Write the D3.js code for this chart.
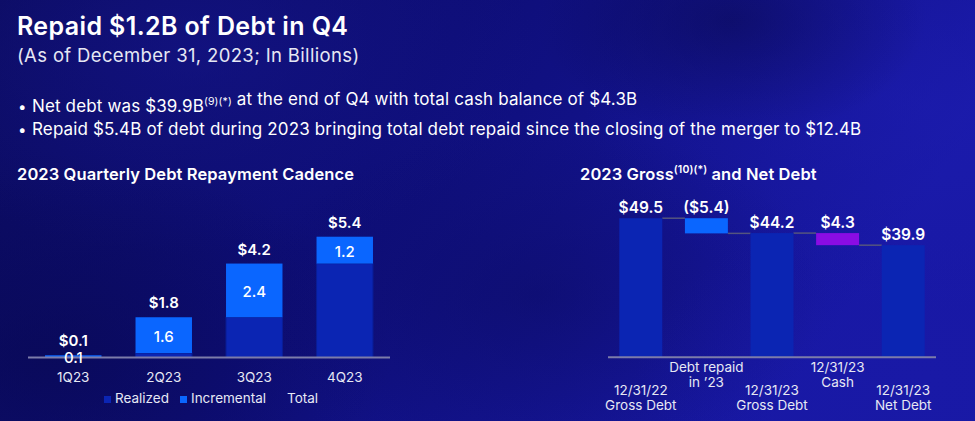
<!DOCTYPE html>
<html>
<head>
<meta charset="utf-8">
<script src="https://cdn.jsdelivr.net/npm/d3@7"></script>
<style>
  html, body { margin: 0; padding: 0; background: #0c0c66; }
  svg { display: block; font-family: Inter, "Noto Sans", sans-serif; }
</style>
</head>
<body>
<svg id="chart" width="975" height="421"></svg>
<script>
// ---------- DATA ----------
const quarters = ["1Q23", "2Q23", "3Q23", "4Q23"];
const realized = [0, 0.2, 1.8, 4.2];
const incremental = [0.1, 1.6, 2.4, 1.2];
const totals = [0.1, 1.8, 4.2, 5.4];
const totalLabels = ["$0.1", "$1.8", "$4.2", "$5.4"];
const incrementalLabels = ["0.1", "1.6", "2.4", "1.2"];
const legendItems = ["Realized", "Incremental", "Total"];

const wfCategories = [["12/31/22", "Gross Debt"], ["Debt repaid", "in \u201923"], ["12/31/23", "Gross Debt"], ["12/31/23", "Cash"], ["12/31/23", "Net Debt"]];
const wfValues = [49.5, -5.4, 44.2, -4.3, 39.9];
const wfTypes = ["total", "change", "total", "change", "total"];
const wfLabels = ["$49.5", "($5.4)", "$44.2", "$4.3", "$39.9"];

// ---------- STYLE ----------
const C = {
  realized: "#0B25B3",
  incremental: "#0A66FF",
  cash: "#8A0CE4",
  axis: "#7C7CAA",
  connector: "#55557E",
  text: "#FFFFFF",
  soft: "#E6E8F4"
};

const svg = d3.select("#chart");
const W = 975, H = 421;

// ---------- BACKGROUND ----------
const defs = svg.append("defs");
const lg = defs.append("linearGradient").attr("id", "bg").attr("x1", 0).attr("y1", 0).attr("x2", 1).attr("y2", 0.3);
lg.append("stop").attr("offset", "0%").attr("stop-color", "#0b0b5e");
lg.append("stop").attr("offset", "45%").attr("stop-color", "#0e0e78");
lg.append("stop").attr("offset", "100%").attr("stop-color", "#1818a4");
svg.append("rect").attr("width", W).attr("height", H).attr("fill", "url(#bg)");

const blobs = [
  {cx: 0.2, cy: 0.12, r: 0.35, c: "#16168e", o: 0.55},
  {cx: 0.95, cy: 0.25, r: 0.35, c: "#1e1eb4", o: 0.5},
  {cx: 0.75, cy: 0.05, r: 0.2, c: "#08084a", o: 0.5},
  {cx: 0.05, cy: 0.85, r: 0.35, c: "#07074c", o: 0.55},
  {cx: 0.55, cy: 0.7, r: 0.3, c: "#0a0a5a", o: 0.45},
  {cx: 0.95, cy: 0.9, r: 0.3, c: "#1a1aa8", o: 0.5}
];
blobs.forEach((b, i) => {
  const rg = defs.append("radialGradient").attr("id", "blob" + i);
  rg.append("stop").attr("offset", "0%").attr("stop-color", b.c).attr("stop-opacity", b.o);
  rg.append("stop").attr("offset", "100%").attr("stop-color", b.c).attr("stop-opacity", 0);
  svg.append("ellipse").attr("cx", b.cx * W).attr("cy", b.cy * H)
    .attr("rx", b.r * W).attr("ry", b.r * W * 0.6).attr("fill", `url(#blob${i})`);
});

// ---------- HEADER ----------
svg.append("text").attr("x", 17).attr("y", 35)
  .attr("fill", C.text).attr("font-size", 25).attr("font-weight", 600)
  .attr("letter-spacing", 0.38)
  .text("Repaid $1.2B of Debt in Q4");
svg.append("text").attr("x", 17).attr("y", 62)
  .attr("fill", C.soft).attr("font-size", 18.5).attr("font-weight", 400)
  .attr("letter-spacing", 0.35)
  .text("(As of December 31, 2023; In Billions)");

function bullet(y, parts) {
  svg.append("text").attr("x", 18).attr("y", y).attr("fill", C.text)
    .attr("font-size", 15).text("\u2022");
  const t = svg.append("text").attr("x", 32).attr("y", y)
    .attr("fill", C.text).attr("font-size", 17).attr("font-weight", 400)
    .attr("letter-spacing", 0.14);
  parts.forEach(p => {
    if (p.sup) {
      t.append("tspan").attr("font-size", 10.5).attr("dy", -7).text(p.t);
      t.append("tspan").attr("dy", 7).text("");
    } else t.append("tspan").text(p.t);
  });
}
bullet(112, [{t: "Net debt was $39.9B"}, {t: "(9)(*)", sup: true}, {t: " at the end of Q4 with total cash balance of $4.3B"}]);
bullet(135, [{t: "Repaid $5.4B of debt during 2023 bringing total debt repaid since the closing of the merger to $12.4B"}]);

// ---------- LEFT CHART: stacked bars ----------
svg.append("text").attr("x", 17).attr("y", 180)
  .attr("fill", C.text).attr("font-size", 16.5).attr("font-weight", 600)
  .attr("letter-spacing", 0.1)
  .text("2023 Quarterly Debt Repayment Cadence");

const x1 = d3.scaleBand().domain(quarters).range([28, 390]).paddingInner(0.376).paddingOuter(0.188);
const y1 = d3.scaleLinear().domain([0, 6]).range([357.5, 223.3]);

const stackRows = quarters.map((q, i) => ({q, realized: realized[i], incremental: incremental[i]}));
const stacked = d3.stack().keys(["realized", "incremental"])(stackRows);
const g1 = svg.append("g");
stacked.forEach(layer => {
  g1.append("g").selectAll("rect").data(layer).join("rect")
    .attr("x", d => x1(d.data.q))
    .attr("width", x1.bandwidth())
    .attr("y", d => y1(d[1]))
    .attr("height", d => Math.max(0, y1(d[0]) - y1(d[1])))
    .attr("fill", layer.key === "realized" ? C.realized : C.incremental)
    .attr("stroke", layer.key === "realized" ? "#0a1d96" : "none")
    .attr("stroke-width", 1);
});

// axis
const ax1 = g1.append("g").attr("transform", `translate(0,${y1(0)})`)
  .call(d3.axisBottom(x1).tickSize(0).tickPadding(15));
ax1.select(".domain").attr("stroke", C.axis).attr("stroke-width", 2)
  .attr("d", `M28,0H390`);
ax1.selectAll("text").attr("fill", C.soft).attr("font-size", 13.5)
  .attr("font-family", "Inter, sans-serif").attr("dy", "0.71em");

// incremental labels
g1.selectAll(".inc").data(stacked[1]).join("text")
  .attr("x", d => x1(d.data.q) + x1.bandwidth() / 2)
  .attr("y", d => (y1(d[0]) + y1(d[1])) / 2 + 1.5)
  .attr("text-anchor", "middle").attr("dominant-baseline", "central")
  .attr("fill", C.text).attr("font-size", 15).attr("font-weight", 500)
  .text((d, i) => incrementalLabels[i]);

// total labels
g1.selectAll(".tot").data(quarters).join("text")
  .attr("x", q => x1(q) + x1.bandwidth() / 2)
  .attr("y", (q, i) => y1(totals[i]) - 9)
  .attr("text-anchor", "middle")
  .attr("fill", C.text).attr("font-size", 15).attr("font-weight", 600)
  .text((q, i) => totalLabels[i]);

// legend
const legX = [104, 180, 287];
const legColors = [C.realized, C.incremental, null];
legendItems.forEach((name, i) => {
  if (legColors[i]) {
    svg.append("rect").attr("x", legX[i]).attr("y", 396).attr("width", 7).attr("height", 7)
      .attr("fill", legColors[i]);
    svg.append("text").attr("x", legX[i] + 11).attr("y", 403)
      .attr("fill", C.soft).attr("font-size", 13.5).text(name);
  } else {
    svg.append("text").attr("x", legX[i]).attr("y", 403)
      .attr("fill", C.soft).attr("font-size", 13.5).text(name);
  }
});

// ---------- RIGHT CHART: waterfall ----------
const rt = svg.append("text").attr("x", 580).attr("y", 180)
  .attr("fill", C.text).attr("font-size", 16.5).attr("font-weight", 600)
  .attr("letter-spacing", 0.1);
rt.append("tspan").text("2023 Gross");
rt.append("tspan").attr("font-size", 10.5).attr("dy", -7).text("(10)(*)");
rt.append("tspan").attr("dy", 7).text(" and Net Debt");

const keys = wfCategories.map((c, i) => "c" + i);
const x2 = d3.scaleBand().domain(keys).range([608, 936]).paddingInner(0.345).paddingOuter(0.1725);
const y2 = d3.scaleLinear().domain([0, 50]).range([357.3, 216.8]);

let running = 0;
const wf = wfValues.map((v, i) => {
  let lo, hi, end;
  if (wfTypes[i] === "total") { lo = 0; hi = v; end = v; }
  else { hi = running; lo = running + v; end = lo; }
  running = end;
  return {key: keys[i], lo, hi, end, type: wfTypes[i], i};
});

const g2 = svg.append("g");
// connectors
g2.selectAll(".conn").data(wf.slice(0, -1)).join("line")
  .attr("x1", d => x2(d.key) + x2.bandwidth())
  .attr("x2", (d, i) => x2(keys[i + 1]))
  .attr("y1", d => y2(d.end)).attr("y2", d => y2(d.end))
  .attr("stroke", C.connector).attr("stroke-width", 1.5);

g2.selectAll(".bar").data(wf).join("rect")
  .attr("x", d => x2(d.key)).attr("width", x2.bandwidth())
  .attr("y", d => y2(d.hi)).attr("height", d => y2(d.lo) - y2(d.hi))
  .attr("fill", d => d.type === "total" ? C.realized : (d.i === 1 ? C.incremental : C.cash));

const ax2 = g2.append("g").attr("transform", `translate(0,${y2(0)})`)
  .call(d3.axisBottom(x2).tickSize(0).tickFormat(""));
ax2.select(".domain").attr("stroke", C.axis).attr("stroke-width", 2).attr("d", "M608,0H936");

// value labels
g2.selectAll(".val").data(wf).join("text")
  .attr("x", d => x2(d.key) + x2.bandwidth() / 2)
  .attr("y", d => y2(d.hi) - 5)
  .attr("text-anchor", "middle")
  .attr("fill", C.text).attr("font-size", 15.5).attr("font-weight", 600)
  .text(d => wfLabels[d.i]);

// category labels (alternating heights)
wfCategories.forEach((lines, i) => {
  const cx = x2(keys[i]) + x2.bandwidth() / 2;
  const base = (i % 2 === 1) ? 372 : 395;
  const t = g2.append("text").attr("text-anchor", "middle")
    .attr("fill", C.soft).attr("font-size", 13.5);
  lines.forEach((ln, j) => {
    t.append("tspan").attr("x", cx).attr("y", base + j * 14.8).text(ln);
  });
});
</script>
</body>
</html>
